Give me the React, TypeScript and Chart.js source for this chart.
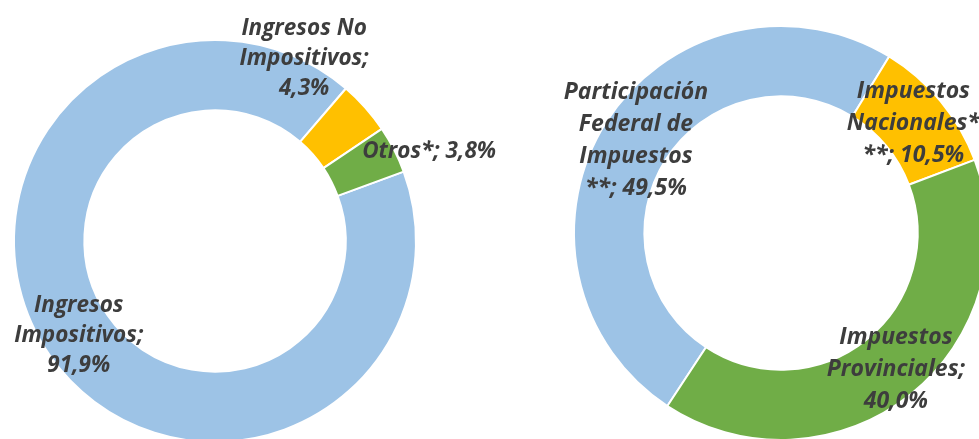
import React, { useEffect, useRef } from "react";
import { Chart, registerables } from "chart.js";

Chart.register(...registerables);

// ---------- data ----------
const leftCategories = ["Ingresos Impositivos", "Ingresos No Impositivos", "Otros*"];
const leftValues = [91.9, 4.3, 3.8];
const leftLabelLines = [["Ingresos", "Impositivos;"], ["Ingresos No", "Impositivos;"], ["Otros*;"]];
const leftValueSameLine = [false, false, true];

const rightCategories = [
  "Participación Federal de Impuestos **",
  "Impuestos Nacionales***",
  "Impuestos Provinciales",
];
const rightValues = [49.5, 10.5, 40.0];
const rightLabelLines = [
  ["Participación", "Federal de", "Impuestos", "**;"],
  ["Impuestos", "Nacionales*", "**;"],
  ["Impuestos", "Provinciales;"],
];
const rightValueSameLine = [true, true, false];

const sliceColors = ["#9DC3E6", "#FFC000", "#70AD47"];

const fmt = (v: number) => v.toFixed(1).replace(".", ",") + "%";

function buildLines(lines: string[][], values: number[], same: boolean[]) {
  return lines.map((l, i) => {
    const out = l.slice();
    if (same[i]) out[out.length - 1] = out[out.length - 1] + " " + fmt(values[i]);
    else out.push(fmt(values[i]));
    return out;
  });
}

type Placement = { angleOffsetDeg: number; radiusFactor: number; dy?: number } | null;

const labelPlugin = {
  id: "sliceLabels",
  afterDatasetsDraw(chart: any) {
    const opts = chart.options.plugins.sliceLabels;
    if (!opts) return;
    const ctx = chart.ctx;
    const meta = chart.getDatasetMeta(0);
    ctx.save();
    ctx.fillStyle = opts.color;
    ctx.font = opts.font;
    ctx.textAlign = "center";
    ctx.textBaseline = "middle";
    meta.data.forEach((arc: any, i: number) => {
      const p = arc.getProps(["x", "y", "startAngle", "endAngle", "innerRadius", "outerRadius"], true);
      const place: Placement = opts.placements[i];
      let ang = (p.startAngle + p.endAngle) / 2;
      let r = (p.innerRadius + p.outerRadius) / 2;
      if (place) {
        ang += (place.angleOffsetDeg * Math.PI) / 180;
        r = p.outerRadius * place.radiusFactor;
      }
      const cx = p.x + Math.cos(ang) * r;
      const cy = p.y + Math.sin(ang) * r;
      const lines: string[] = opts.lines[i];
      const lh = opts.lineHeight;
      const top = cy - ((lines.length - 1) * lh) / 2;
      lines.forEach((t, k) => ctx.fillText(t, cx, top + k * lh));
    });
    ctx.restore();
  },
};

function Donut(props: {
  categories: string[];
  values: number[];
  lines: string[][];
  rotation: number;
  cutout: string;
  width: number;
  height: number;
  left: number;
  padding: { left: number; right: number; top: number; bottom: number };
  placements: Placement[];
  font: string;
  lineHeight: number;
}) {
  const ref = useRef<HTMLCanvasElement>(null);
  useEffect(() => {
    if (!ref.current) return;
    const chart = new Chart(ref.current, {
      type: "doughnut",
      data: {
        labels: props.categories,
        datasets: [
          {
            data: props.values,
            backgroundColor: sliceColors,
            borderColor: "#ffffff",
            borderWidth: 2,
          },
        ],
      },
      options: {
        responsive: false,
        animation: false,
        rotation: props.rotation,
        cutout: props.cutout,
        layout: { padding: props.padding },
        plugins: {
          legend: { display: false },
          tooltip: { enabled: false },
          sliceLabels: {
            lines: props.lines,
            placements: props.placements,
            font: props.font,
            lineHeight: props.lineHeight,
            color: "#3d3d3d",
          },
        } as any,
      },
      plugins: [labelPlugin],
    });
    return () => chart.destroy();
  }, []);
  return (
    <canvas
      ref={ref}
      width={props.width}
      height={props.height}
      style={{ position: "absolute", left: props.left, top: 0, width: props.width, height: props.height }}
    />
  );
}

export default function App() {
  return (
    <div
      style={{
        position: "absolute",
        left: 0,
        top: 0,
        width: 979,
        height: 439,
        overflow: "hidden",
        background: "#ffffff",
      }}
    >
      <Donut
        categories={leftCategories}
        values={leftValues}
        lines={buildLines(leftLabelLines, leftValues, leftValueSameLine)}
        rotation={69.8}
        cutout="65%"
        width={560}
        height={470}
        left={0}
        padding={{ left: 13, right: 143, top: 39, bottom: 27 }}
        placements={[null, { angleOffsetDeg: -22.4, radiusFactor: 1.012 }, { angleOffsetDeg: 4.3, radiusFactor: 1.155 }]}
        font="italic bold 22.5px 'Open Sans'"
        lineHeight={30}
      />
      <Donut
        categories={rightCategories}
        values={rightValues}
        lines={buildLines(rightLabelLines, rightValues, rightValueSameLine)}
        rotation={213.3}
        cutout="66%"
        width={510}
        height={470}
        left={490}
        padding={{ left: 83, right: 11, top: 25, bottom: 29 }}
        placements={[null, null, { angleOffsetDeg: -1.5, radiusFactor: 0.86 }]}
        font="italic bold 23px 'Open Sans'"
        lineHeight={32}
      />
    </div>
  );
}
